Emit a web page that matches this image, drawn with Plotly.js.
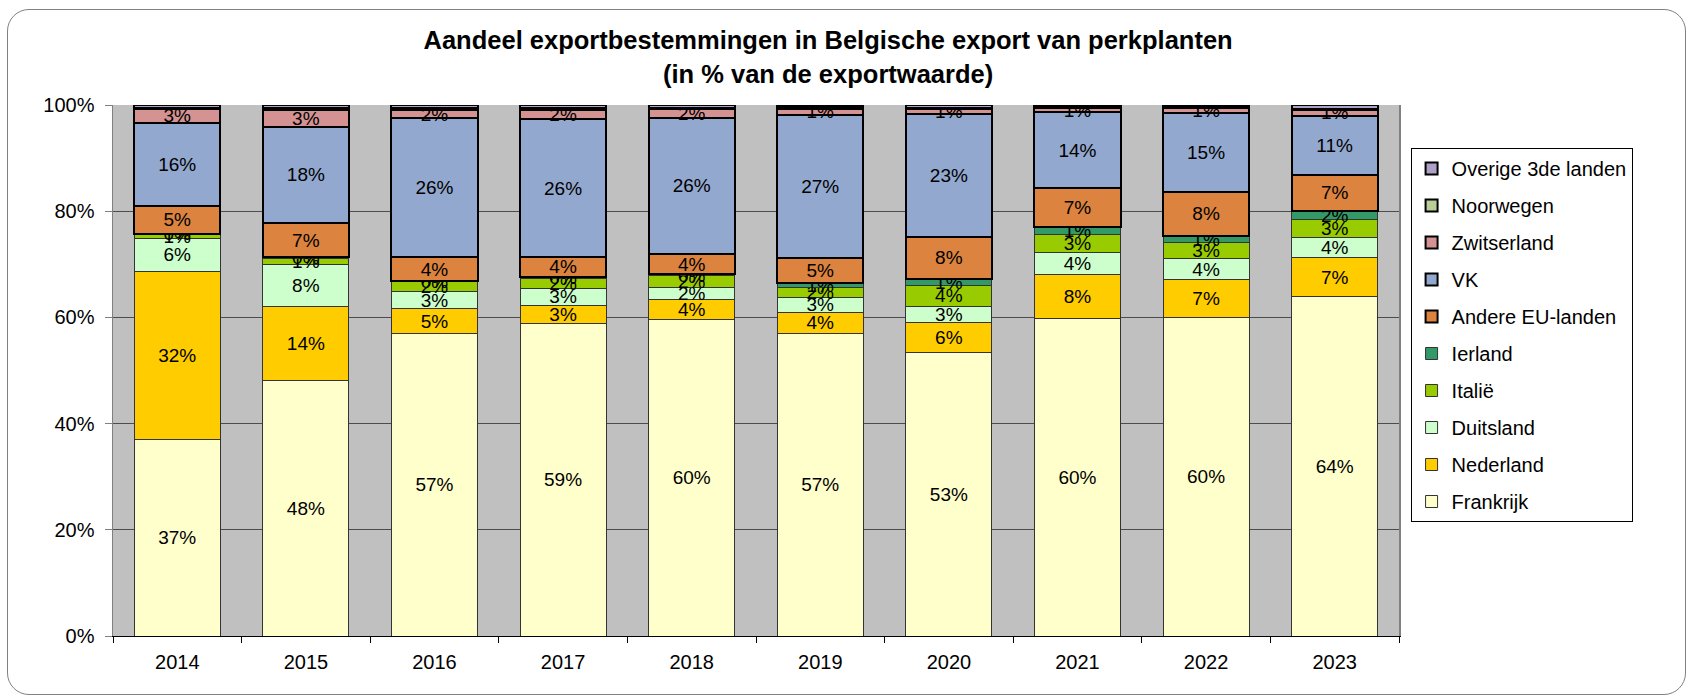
<!DOCTYPE html>
<html>
<head>
<meta charset="utf-8">
<script src="https://cdn.plot.ly/plotly-3.0.1.min.js"></script>
<style>
  html, body { margin: 0; padding: 0; background: #fff; }
  #frame {
    position: absolute; left: 7px; top: 9px; width: 1677px; height: 684px;
    border: 1.5px solid #808080; border-radius: 22px;
  }
  #chart { position: absolute; left: 0; top: 0; width: 1690px; height: 696px; }
</style>
</head>
<body>
<div id="frame"></div>
<div id="chart"></div>
<script>
// aandeel in % van de exportwaarde, per jaar
const years = ["2014", "2015", "2016", "2017", "2018", "2019", "2020", "2021", "2022", "2023"];

const frankrijk   = [37.1, 48.1, 57.0, 58.9, 59.6, 56.9, 53.4, 59.8, 60.0, 63.9];
const nederland   = [31.6, 13.9,  4.6,  3.4,  3.7,  4.1,  5.7,  8.3,  7.1,  7.3];
const duitsland   = [ 6.2,  7.9,  3.3,  3.2,  2.4,  2.7,  3.0,  4.1,  4.0,  3.9];
const italie      = [ 0.8,  1.2,  1.8,  1.9,  2.1,  1.9,  3.9,  3.4,  3.1,  3.3];
const ierland     = [ 0.1,  0.2,  0.2,  0.3,  0.3,  0.8,  1.3,  1.4,  1.1,  1.6];
const andereEU    = [ 5.2,  6.5,  4.4,  3.6,  3.9,  4.8,  7.8,  7.4,  8.4,  6.9];
const vk          = [15.7, 18.1, 26.2, 26.1, 25.6, 26.9, 23.3, 14.2, 14.8, 11.1];
const zwitserland = [ 2.6,  3.1,  1.6,  1.7,  1.6,  1.2,  0.8,  0.8,  0.9,  1.0];
const noorwegen   = [ 0.2,  0.4,  0.4,  0.3,  0.3,  0.3,  0.3,  0.2,  0.2,  0.3];
const overige     = [ 0.5,  0.6,  0.5,  0.6,  0.5,  0.4,  0.5,  0.4,  0.4,  0.7];

const yTicks = [0, 20, 40, 60, 80, 100];
const yTickLabels = ["0%", "20%", "40%", "60%", "80%", "100%"];

// ── Series (van onder naar boven) ─────────────────────────────────────────────

const series = [
  { name: "Frankrijk",          y: frankrijk,   color: "#FFFFCC", lw: 1, lc: "#333", label: true },
  { name: "Nederland",          y: nederland,   color: "#FFCC00", lw: 1, lc: "#333", label: true },
  { name: "Duitsland",          y: duitsland,   color: "#CCFFCC", lw: 1, lc: "#333", label: true },
  { name: "Italië",             y: italie,      color: "#99CC00", lw: 1, lc: "#333", label: true },
  { name: "Ierland",            y: ierland,     color: "#339966", lw: 1, lc: "#333", label: true },
  { name: "Andere EU-landen",   y: andereEU,    color: "#DB833F", lw: 2, lc: "#000", label: true },
  { name: "VK",                 y: vk,          color: "#93A8CF", lw: 2, lc: "#000", label: true },
  { name: "Zwitserland",        y: zwitserland, color: "#D49292", lw: 2, lc: "#000", label: true },
  { name: "Noorwegen",          y: noorwegen,   color: "#B9CF95", lw: 2, lc: "#000", label: false },
  { name: "Overige 3de landen", y: overige,     color: "#AFA0C8", lw: 2, lc: "#000", label: false },
];

// legendrank aflopend: bovenste reeks bovenaan in de legende
const traces = series.map((s, i) => ({
  type: "bar",
  name: s.name,
  x: years,
  y: s.y,
  legendgroup: "g" + i,
  legendrank: 100 - i,
  marker: { color: s.color, line: { color: s.lc, width: s.lw } },
  texttemplate: s.label ? "%{y:.0f}%" : "",
  textposition: s.label ? "inside" : "none",
  insidetextanchor: "middle",
  textangle: 0,
  constraintext: "none",
  textfont: { family: "Liberation Sans, Arial, sans-serif", size: 19, color: "#000" },
  hoverinfo: "skip",
}));

const layout = {
  width: 1690,
  height: 696,
  barmode: "stack",
  bargap: 0.33,
  paper_bgcolor: "rgba(0,0,0,0)",
  plot_bgcolor: "#C0C0C0",
  font: { family: "Liberation Sans, Arial, sans-serif", size: 20, color: "#000" },
  uniformtext: { minsize: 19, mode: "show" },
  title: {
    text: "<b>Aandeel exportbestemmingen in Belgische export van perkplanten<br>(in % van de exportwaarde)</b>",
    font: { size: 25.5, color: "#000" },
    x: 0.49, xanchor: "center",
    y: 0.929, yanchor: "top",
  },
  margin: { l: 113, r: 291, t: 105, b: 60 },
  xaxis: {
    type: "category",
    showline: true, linecolor: "#000", linewidth: 1,
    ticks: "outside", tickson: "boundaries", ticklen: 6, tickcolor: "#000",
    ticklabelstandoff: 8,
    showgrid: false,
  },
  yaxis: {
    range: [0, 100],
    tickvals: yTicks,
    ticktext: yTickLabels,
    showline: true, linecolor: "#808080", linewidth: 1.5, mirror: true,
    ticks: "outside", ticklen: 7, tickcolor: "#808080",
    ticklabelstandoff: 6,
    gridcolor: "#4d4d4d", gridwidth: 1,
    zeroline: false,
  },
  showlegend: true,
  legend: {
    x: 1.009, xanchor: "left",
    y: 0.919, yanchor: "top",
    traceorder: "grouped",
    tracegroupgap: 8,
    bgcolor: "#fff",
    bordercolor: "#000",
    borderwidth: 1,
    font: { size: 20, color: "#000" },
  },
};

Plotly.newPlot("chart", traces, layout, { displayModeBar: false, staticPlot: true });
</script>
</body>
</html>
